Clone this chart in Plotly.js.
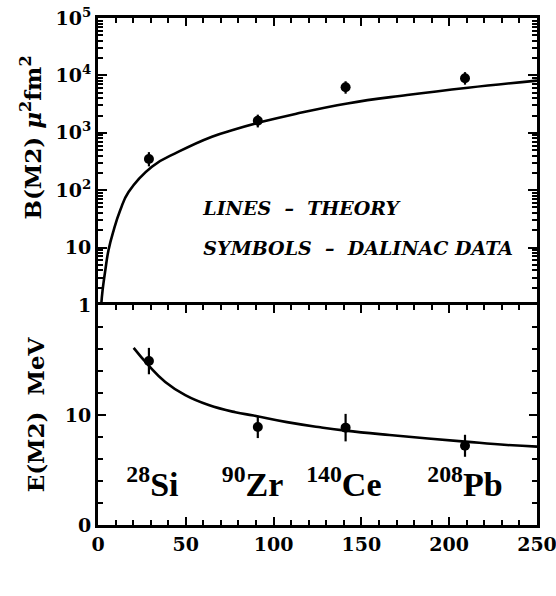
<!DOCTYPE html>
<html>
<head>
<meta charset="utf-8">
<script src="https://cdn.plot.ly/plotly-3.0.1.min.js"></script>
<style>html,body{margin:0;padding:0;background:#fff;}#chart{width:556px;height:596px;}</style>
</head>
<body>
<div id="chart"></div>
<script>
// ---- data ----
const massA = [29, 91, 141, 209];
const isotopeLabels = ['<sup>28</sup>Si', '<sup>90</sup>Zr', '<sup>140</sup>Ce', '<sup>208</sup>Pb'];
const isotopeLabelX = [31, 88, 140, 209];

// B(M2) measured (mu^2 fm^2)
const bm2Data = [350, 1620, 6200, 8900];
const bm2ErrUp = [110, 450, 1700, 2500];
const bm2ErrDown = [90, 380, 1400, 2000];

// E(M2) measured (MeV)
const em2Data = [14.9, 8.9, 8.85, 7.2];
const em2Err = [1.2, 1.0, 1.25, 1.0];

// theory curves
const theoryBA = [1.9, 2.6, 4.2, 6.0, 8.9, 12.7, 17.4, 30.7, 45.9, 64.9, 78.2, 93.4, 112.4, 142, 176, 210.7, 250];
const theoryB  = [1.07, 1.8, 4.1, 9.1, 20, 45, 93, 257, 468, 855, 1150, 1550, 2130, 3250, 4550, 6100, 8100];
const theoryEA = [20.3, 28.8, 38.3, 49.7, 63, 78.2, 88.6, 107.6, 126.6, 141, 166, 209, 233, 250];
const theoryE  = [16.1, 14.5, 13.0, 11.8, 10.9, 10.25, 9.95, 9.35, 8.88, 8.58, 8.18, 7.58, 7.27, 7.12];

// tick labels
const xTickVals = [0, 50, 100, 150, 200, 250];
const xTickText = ['0', '50', '100', '150', '200', '250'];
const topTickVals = [1, 10, 100, 1000, 10000, 100000];
const topTickText = ['1', '10', '10<sup>2</sup>', '10<sup>3</sup>', '10<sup>4</sup>', '10<sup>5</sup>'];
const botTickVals = [0, 10];
const botTickText = ['0', '10'];

// ---- styling ----
const serif = 'DejaVu Serif';
const bold = arr => arr.map(t => '<b>' + t + '</b>');
const tickFont = {family: serif, size: 19, color: '#000'};
const minorLog = [];
for (let k = 0; k < 5; k++) for (let d = 2; d <= 9; d++) minorLog.push(d * Math.pow(10, k));

const traces = [
  {x: theoryBA, y: theoryB, xaxis: 'x2', yaxis: 'y2', mode: 'lines', hoverinfo: 'skip',
   line: {color: '#000', width: 2.6, shape: 'spline', smoothing: 1.3}},
  {x: massA, y: bm2Data, xaxis: 'x2', yaxis: 'y2', mode: 'markers', marker: {color: '#000', size: 10},
   error_y: {type: 'data', symmetric: false, array: bm2ErrUp, arrayminus: bm2ErrDown, color: '#000', thickness: 2.2, width: 0}},
  {x: theoryEA, y: theoryE, xaxis: 'x', yaxis: 'y', mode: 'lines', hoverinfo: 'skip',
   line: {color: '#000', width: 2.6, shape: 'spline', smoothing: 1.3}},
  {x: massA, y: em2Data, xaxis: 'x', yaxis: 'y', mode: 'markers', marker: {color: '#000', size: 10},
   error_y: {type: 'data', array: em2Err, color: '#000', thickness: 2.2, width: 0}},
  // isotope labels
  {x: isotopeLabelX, y: [3.4, 3.4, 3.4, 3.4], xaxis: 'x', yaxis: 'y', mode: 'text', hoverinfo: 'skip',
   text: bold(isotopeLabels), textposition: 'middle center', cliponaxis: false,
   textfont: {family: 'Liberation Serif', size: 34, color: '#000'}},
  // legend-like note in the top panel
  {x: [60, 60], y: [45, 9.1], xaxis: 'x2', yaxis: 'y2', mode: 'text', hoverinfo: 'skip',
   text: ['<b><i>LINES\u00a0\u00a0–\u00a0\u00a0THEORY</i></b>', '<b><i>SYMBOLS\u00a0\u00a0–\u00a0\u00a0DALINAC DATA</i></b>'],
   textposition: 'middle right', cliponaxis: false,
   textfont: {family: serif, size: 19, color: '#000'}},
  // x-axis title "A"
  {x: [223], y: [-5.2], xaxis: 'x', yaxis: 'y', mode: 'text', hoverinfo: 'skip',
   text: ['<b>A</b>'], textposition: 'middle center', cliponaxis: false,
   textfont: {family: serif, size: 26, color: '#000'}}
];

const layout = {
  width: 556, height: 596,
  margin: {l: 98, r: 19, t: 18, b: 71},
  showlegend: false,
  xaxis: {domain: [0, 1], anchor: 'y', range: [0, 250], tickvals: xTickVals, ticktext: bold(xTickText),
    tickfont: tickFont, ticklabeloverflow: 'allow',
    ticks: 'inside', ticklen: 8, tickwidth: 2, tickcolor: '#000',
    minor: {ticks: 'inside', dtick: 10, ticklen: 5},
    showline: true, linewidth: 3, linecolor: '#000', mirror: 'ticks', showgrid: false, zeroline: false},
  yaxis: {domain: [0, 0.434], anchor: 'x', range: [0, 20], tickvals: botTickVals, ticktext: bold(botTickText),
    tickfont: tickFont,
    title: {text: '<b>E(M2)\u00a0\u00a0MeV</b>', font: {family: serif, size: 23, color: '#000'}, standoff: 14},
    ticks: 'inside', ticklen: 8, tickwidth: 2, tickcolor: '#000',
    minor: {ticks: 'inside', dtick: 2, ticklen: 5},
    showline: true, linewidth: 3, linecolor: '#000', mirror: 'ticks', showgrid: false, zeroline: false},
  xaxis2: {domain: [0, 1], anchor: 'y2', side: 'top', range: [0, 250], tickvals: xTickVals, showticklabels: false,
    ticks: 'inside', ticklen: 8, tickwidth: 2, tickcolor: '#000',
    minor: {ticks: 'inside', dtick: 10, ticklen: 5},
    showline: true, linewidth: 3, linecolor: '#000', showgrid: false, zeroline: false},
  yaxis2: {domain: [0.434, 1], anchor: 'x2', type: 'log', range: [0, 5], tickvals: topTickVals, ticktext: bold(topTickText),
    tickfont: tickFont,
    title: {text: '<b>\u00a0\u00a0\u00a0\u00a0\u00a0\u00a0B(M2) <i>μ</i><sup>2</sup>fm<sup>2</sup></b>', font: {family: serif, size: 23, color: '#000'}, standoff: 8},
    ticks: 'inside', ticklen: 9, tickwidth: 2, tickcolor: '#000',
    minor: {ticks: 'inside', tickvals: minorLog, ticklen: 5},
    showline: true, linewidth: 3, linecolor: '#000', mirror: 'ticks', showgrid: false, zeroline: false}
};

Plotly.newPlot('chart', traces, layout, {staticPlot: true});
</script>
</body>
</html>
